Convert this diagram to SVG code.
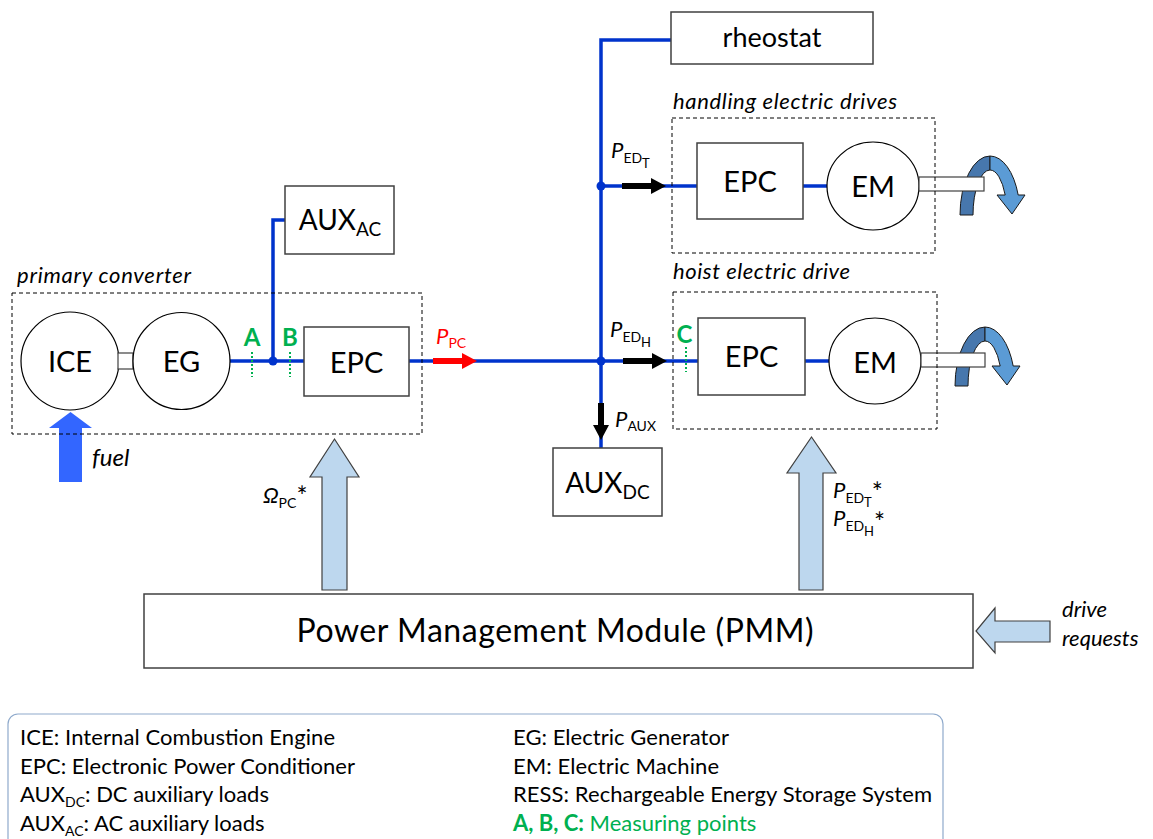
<svg xmlns="http://www.w3.org/2000/svg" width="1153" height="839" viewBox="0 0 1153 839">
<defs>
<style>
text{font-family:Lato,'Open Sans','DejaVu Sans',sans-serif;fill:#000}
.box{fill:#fff;stroke:#404040;stroke-width:1.5}
.circ{fill:#fff;stroke:#000;stroke-width:1.2}
.dash{fill:none;stroke:#000;stroke-width:1;stroke-dasharray:4 3}
.bus{fill:none;stroke:#0033CC;stroke-width:3.5}
.node{font-size:29px;text-anchor:middle}
.aux{font-size:28px;text-anchor:middle}
.ital{font-style:italic;font-size:22px}
.meas{fill:#00B050;font-weight:bold;font-size:24px}
.mdot{stroke:#00B050;stroke-width:2;stroke-dasharray:2 2}
.big{fill:#BDD7EE;stroke:#404040;stroke-width:1.2}
.shaft{fill:#fff;stroke:#404040;stroke-width:1.2}
.rotd{fill:#4777AD;stroke:#1a1a1a;stroke-width:1}
.rotl{fill:#5B9BD5;stroke:#1a1a1a;stroke-width:1}
.pl{font-size:22px;font-style:italic}
.s14{font-size:14px;font-style:normal}
.s13{font-size:13px;font-style:normal}
.ast{font-size:26px;font-style:normal}
.s19{font-size:19px}
.leg{font-size:22px}
.legs{font-size:14px}
</style>
<g id="rot">
<path class="rotd" d="M960,215 A30,59 0 0 1 990,156 L990,170 A17,45 0 0 0 973,215 Z"/>
</g>
<g id="rotl">
<path class="rotl" d="M990,156 A30,59 0 0 1 1018.2,195 L1025,195 L1012,214 L997,195 L1005.2,195 A17,45 0 0 0 990,170 Z"/>
</g>
</defs>

<g id="connectors">
<path class="bus" d="M230,361 H409"/>
<path class="bus" d="M394,220 H273 V361"/>
<path class="bus" d="M409,361 H698"/>
<path class="bus" d="M671,40 H601 V448"/>
<path class="bus" d="M601,186 H697"/>
<path class="bus" d="M803,186 H827"/>
<path class="bus" d="M805,361 H829"/>
<circle cx="273" cy="361" r="4.5" fill="#0033CC"/>
<circle cx="601" cy="186" r="4.5" fill="#0033CC"/>
<circle cx="601" cy="361" r="4.5" fill="#0033CC"/>
<path fill="#FF0000" d="M433,358 H462 V353 L477,361 L462,369 V364 H433 Z"/>
<path fill="#000" d="M622,183 H651 V178 L666,186 L651,194 V189 H622 Z"/>
<path fill="#000" d="M623,358 H652 V353 L667,361 L652,369 V364 H623 Z"/>
<path fill="#000" d="M598,403 V425 H593 L601,440 L609,425 H604 V403 Z"/>
<line class="mdot" x1="252" y1="352" x2="252" y2="377"/>
<line class="mdot" x1="290" y1="352" x2="290" y2="377"/>
<line class="mdot" x1="686" y1="347" x2="686" y2="372"/>
<path class="big" d="M322,590 V477 H310 L334.5,439 L359,477 H347 V590 Z"/>
<path class="big" d="M799,590 V473 H787 L811.5,437 L836,473 H823 V590 Z"/>
<path class="big" d="M1050,621 H995 V608 L976,631 L995,653 V642 H1050 Z"/>
<path fill="#3366FF" d="M59,482 V428 H49 L70.5,412 L92,428 H82 V482 Z"/>
</g>

<g id="ice"><circle class="circ" cx="70" cy="361" r="49"/><text class="node" x="70" y="372">ICE</text></g>
<g id="coupling"><rect class="shaft" x="118" y="353" width="15" height="16"/></g>
<g id="eg"><circle class="circ" cx="181.5" cy="361" r="48.5"/><text class="node" x="181.5" y="372">EG</text></g>
<g id="epc-pc"><rect class="box" x="304" y="327" width="105" height="69"/><text class="node" x="356.5" y="373">EPC</text></g>
<g id="aux-ac"><rect class="box" x="285" y="186" width="109" height="68"/><text class="aux" x="340" y="230">AUX<tspan class="s19" dy="6">AC</tspan></text></g>
<g id="aux-dc"><rect class="box" x="553" y="448" width="109" height="68"/><text class="aux" x="607.5" y="493">AUX<tspan class="s19" dy="6">DC</tspan></text></g>
<g id="rheostat"><rect class="box" x="671" y="12" width="202" height="52"/><text class="node" x="772" y="47" style="font-size:27px">rheostat</text></g>

<g id="epc-t"><rect class="box" x="697" y="143" width="106" height="76"/><text class="node" x="750" y="192">EPC</text></g>
<g id="em-t">
<use href="#rot"/>
<ellipse class="circ" cx="873" cy="186" rx="46" ry="44"/><text class="node" x="873" y="197">EM</text>
<rect class="shaft" x="919" y="177" width="65" height="14"/>
<use href="#rotl"/>
</g>
<g id="epc-h"><rect class="box" x="698" y="318" width="107" height="77"/><text class="node" x="751.5" y="367">EPC</text></g>
<g id="em-h">
<use href="#rot" transform="translate(-5,171)"/>
<ellipse class="circ" cx="875" cy="361" rx="46" ry="43"/><text class="node" x="875" y="373">EM</text>
<rect class="shaft" x="921" y="353" width="64" height="14"/>
<use href="#rotl" transform="translate(-5,171)"/>
</g>

<g id="pmm"><rect class="box" x="144" y="594" width="829" height="74"/><text x="555" y="642" style="font-size:32px" text-anchor="middle" textLength="517">Power Management Module (PMM)</text></g>

<g id="primary-converter"><rect class="dash" x="12" y="293" width="410" height="141"/><text class="ital" x="17" y="283" textLength="174">primary converter</text></g>
<g id="handling-drives"><rect class="dash" x="672" y="118" width="263" height="135"/><text class="ital" x="673" y="109" textLength="224">handling electric drives</text></g>
<g id="hoist-drive"><rect class="dash" x="673" y="292" width="264" height="137"/><text class="ital" x="673" y="279" textLength="177">hoist electric drive</text></g>

<g id="labels">
<text class="meas" x="252" y="346" text-anchor="middle">A</text>
<text class="meas" x="290" y="346" text-anchor="middle">B</text>
<text class="meas" x="684.5" y="343" text-anchor="middle">C</text>
<text x="436" y="344" class="pl" style="fill:#FF0000">P<tspan class="s14" dy="4" style="fill:#FF0000">PC</tspan></text>
<text x="611" y="158" class="pl">P<tspan class="s14" dy="5">ED</tspan><tspan class="s13" dy="5">T</tspan></text>
<text x="610" y="337" class="pl">P<tspan class="s14" dy="5">ED</tspan><tspan class="s13" dy="5">H</tspan></text>
<text x="615" y="427" class="pl">P<tspan class="s14" dy="4">AUX</tspan></text>
<text x="263" y="503" class="pl">Ω<tspan class="s14" dy="5">PC</tspan><tspan class="ast" dy="-2">*</tspan></text>
<text x="833" y="498" class="pl">P<tspan class="s14" dy="5">ED</tspan><tspan class="s13" dy="4">T</tspan><tspan class="ast" dy="-5">*</tspan></text>
<text x="833" y="526" class="pl">P<tspan class="s14" dy="5">ED</tspan><tspan class="s13" dy="5">H</tspan><tspan class="ast" dy="-4">*</tspan></text>
<text x="92" y="466" class="pl" style="font-size:24px">fuel</text>
<text x="1062" y="617" class="pl">drive</text>
<text x="1062" y="646" class="pl">requests</text>
</g>

<g id="legend">
<rect x="8" y="714" width="935" height="150" rx="10" fill="#fff" stroke="#8FAACC" stroke-width="1.2"/>
<text class="leg" x="20" y="745" textLength="315">ICE: Internal Combustion Engine</text>
<text class="leg" x="20" y="774" textLength="335">EPC: Electronic Power Conditioner</text>
<text class="leg" x="20" y="802">AUX<tspan class="legs" dy="5">DC</tspan><tspan dy="-5">: DC auxiliary loads</tspan></text>
<text class="leg" x="20" y="831">AUX<tspan class="legs" dy="5">AC</tspan><tspan dy="-5">: AC auxiliary loads</tspan></text>
<text class="leg" x="513" y="745" textLength="216">EG: Electric Generator</text>
<text class="leg" x="513" y="774" textLength="206">EM: Electric Machine</text>
<text class="leg" x="513" y="802" textLength="419">RESS: Rechargeable Energy Storage System</text>
<text class="leg" x="513" y="831" style="fill:#00B050"><tspan font-weight="bold" style="fill:#00B050">A, B, C:</tspan> Measuring points</text>
</g>
</svg>
